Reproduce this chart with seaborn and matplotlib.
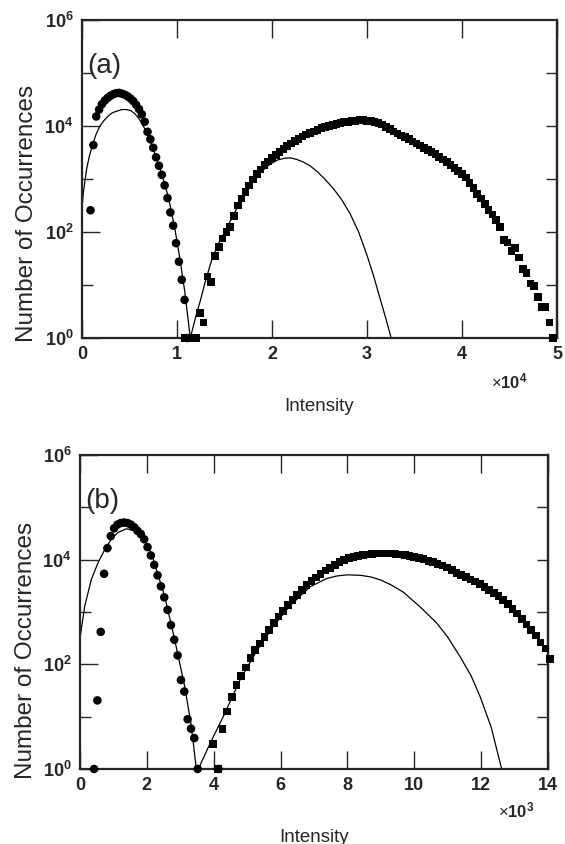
import numpy as np
import pandas as pd
import matplotlib
matplotlib.use("Agg")
import matplotlib.pyplot as plt
import seaborn as sns
from matplotlib.ticker import FixedLocator, NullFormatter, NullLocator

# ---------------- data (y given as log10 of occurrences) ----------------
# panel (a)
circ_a_x = [900, 1200, 1500, 1800, 2100, 2400, 2700, 3000, 3300, 3600,
            3900, 4200, 4500, 4800, 5100, 5400, 5700, 6000, 6300, 6600,
            6900, 7200, 7500, 7800, 8100, 8400, 8700, 9000, 9300, 9600,
            9900, 10200, 10500, 10800, 11100]
circ_a_log = [2.41, 3.64, 4.18, 4.31, 4.41, 4.48, 4.53, 4.57, 4.60, 4.62,
              4.625, 4.61, 4.59, 4.56, 4.52, 4.47, 4.40, 4.32, 4.22, 4.08,
              3.89, 3.75, 3.59, 3.41, 3.25, 3.08, 2.88, 2.64, 2.37, 2.12,
              1.79, 1.44, 1.10, 0.72, 0.0]

sq_a_x = [10800, 11200, 11600, 12000, 12400, 12800, 13200, 13600, 14000, 14400,
          14800, 15200, 15600, 16000, 16400, 16800, 17200, 17600, 18000, 18400,
          18800, 19200, 19600, 20000, 20400, 20800, 21200, 21600, 22000, 22400,
          22800, 23200, 23600, 24000, 24400, 24800, 25200, 25600, 26000, 26400,
          26800, 27200, 27600, 28000, 28400, 28800, 29200, 29600, 30000, 30400,
          30800, 31200, 31600, 32000, 32400, 32800, 33200, 33600, 34000, 34400,
          34800, 35200, 35600, 36000, 36400, 36800, 37200, 37600, 38000, 38400,
          38800, 39200, 39600, 40000, 40400, 40800, 41200, 41600, 42000, 42400,
          42800, 43200, 43600, 44000, 44400, 44800, 45200, 45600, 46000, 46400,
          46800, 47200, 47600, 48000, 48400, 48800, 49200, 49600]
sq_a_log = [0, 0, 0, 0, 0.47, 0.29, 1.16, 1.06, 1.55, 1.72,
            1.88, 2.00, 2.10, 2.30, 2.50, 2.63, 2.76, 2.88, 2.99, 3.09,
            3.18, 3.26, 3.33, 3.40, 3.45, 3.51, 3.57, 3.62, 3.67, 3.72,
            3.76, 3.80, 3.84, 3.87, 3.90, 3.93, 3.96, 3.98, 4.00, 4.02,
            4.04, 4.06, 4.07, 4.08, 4.09, 4.10, 4.11, 4.11, 4.10, 4.09,
            4.08, 4.06, 4.03, 3.98, 3.94, 3.90, 3.86, 3.82, 3.79, 3.75,
            3.71, 3.67, 3.63, 3.59, 3.55, 3.51, 3.47, 3.42, 3.37, 3.32,
            3.27, 3.21, 3.15, 3.09, 3.03, 2.93, 2.83, 2.72, 2.63, 2.53,
            2.42, 2.33, 2.23, 2.10, 1.85, 1.80, 1.64, 1.70, 1.52, 1.30,
            1.23, 1.03, 0.98, 0.77, 0.59, 0.59, 0.29, 0.0]

fit_a1_x = [0, 150, 490, 800, 1190, 1500, 1890, 2300, 2770, 3200,
            3650, 4200, 4700, 5150, 5580, 5950, 6280, 6810, 7510, 8390,
            9090, 9790, 10320, 10840, 11400]
fit_a1_log = [2.44, 2.75, 3.19, 3.45, 3.69, 3.85, 4.00, 4.10, 4.19, 4.25,
              4.28, 4.31, 4.31, 4.29, 4.23, 4.15, 4.06, 3.88, 3.56, 3.10,
              2.66, 2.05, 1.48, 0.85, 0.0]
fit_a2_x = [11400, 12000, 12420, 13000, 13650, 14300, 15000, 15800, 16600, 17400,
            18200, 19000, 19800, 20600, 21300, 21900, 22600, 23300, 24000, 24700,
            25500, 26460, 27300, 28210, 29100, 29970, 30700, 31370, 32000, 32550]
fit_a2_log = [0.0, 0.42, 0.68, 1.08, 1.47, 1.76, 2.00, 2.27, 2.55, 2.80,
              3.00, 3.16, 3.28, 3.36, 3.39, 3.40, 3.37, 3.32, 3.25, 3.15,
              3.01, 2.82, 2.62, 2.35, 2.01, 1.58, 1.17, 0.75, 0.36, 0.0]

# panel (b)
circ_b_x = [420, 520, 620, 720, 820, 920, 1020, 1120, 1220, 1320,
            1420, 1520, 1620, 1720, 1820, 1920, 2020, 2120, 2220, 2320,
            2420, 2520, 2620, 2720, 2820, 2920, 3020, 3120, 3220, 3320,
            3420, 3520, 4140]
circ_b_log = [0, 1.31, 2.62, 3.73, 4.22, 4.45, 4.60, 4.67, 4.70, 4.71,
              4.70, 4.67, 4.62, 4.55, 4.49, 4.39, 4.24, 4.08, 3.90, 3.70,
              3.49, 3.28, 3.04, 2.75, 2.47, 2.17, 1.70, 1.48, 0.95, 0.77,
              0.59, 0, 0]

sq_b_x = [3980, 4120, 4260, 4400, 4540, 4680, 4820, 4960, 5100, 5240,
          5380, 5520, 5660, 5800, 5940, 6080, 6220, 6360, 6500, 6640,
          6780, 6920, 7060, 7200, 7340, 7480, 7620, 7760, 7900, 8040,
          8180, 8320, 8460, 8600, 8740, 8880, 9020, 9160, 9300, 9440,
          9580, 9720, 9860, 10000, 10140, 10280, 10420, 10560, 10700, 10840,
          10980, 11120, 11260, 11400, 11540, 11680, 11820, 11960, 12100, 12240,
          12380, 12520, 12660, 12800, 12940, 13080, 13220, 13360, 13500, 13640,
          13780, 13920, 14060]
sq_b_log = [0.48, 0, 0.76, 1.10, 1.38, 1.60, 1.78, 1.94, 2.12, 2.27,
            2.40, 2.52, 2.66, 2.79, 2.91, 3.02, 3.13, 3.23, 3.33, 3.42,
            3.52, 3.59, 3.66, 3.73, 3.79, 3.84, 3.90, 3.95, 3.99, 4.03,
            4.05, 4.07, 4.09, 4.10, 4.11, 4.12, 4.12, 4.12, 4.12, 4.11,
            4.10, 4.09, 4.07, 4.05, 4.03, 4.01, 3.98, 3.95, 3.92, 3.89,
            3.85, 3.80, 3.75, 3.71, 3.67, 3.62, 3.58, 3.53, 3.48, 3.42,
            3.36, 3.30, 3.23, 3.15, 3.06, 2.97, 2.87, 2.76, 2.65, 2.55,
            2.42, 2.30, 2.10]

fit_b1_x = [0, 140, 339, 538, 738, 937, 1137, 1386, 1585, 1700,
            1850, 2000, 2150, 2300, 2533, 2832, 3131, 3330, 3480]
fit_b1_log = [2.50, 3.11, 3.62, 3.94, 4.19, 4.39, 4.52, 4.59, 4.56, 4.51,
              4.43, 4.30, 4.10, 3.78, 3.30, 2.47, 1.58, 0.82, 0.0]
fit_b2_x = [3540, 3900, 4300, 4800, 5300, 5800, 6300, 6880, 7380, 7700,
            8000, 8400, 8700, 9000, 9300, 9671, 10170, 10670, 11000, 11367,
            11700, 11965, 12300, 12614]
fit_b2_log = [0, 0.50, 1.02, 1.72, 2.27, 2.74, 3.13, 3.48, 3.64, 3.69,
              3.71, 3.70, 3.67, 3.61, 3.52, 3.38, 3.10, 2.79, 2.52, 2.15,
              1.78, 1.39, 0.80, 0]

ytick_vals = [1, 1e2, 1e4, 1e6]
ytick_labels = ["$10^{0}$", "$10^{2}$", "$10^{4}$", "$10^{6}$"]
xticks_a = [0, 10000, 20000, 30000, 40000, 50000]
xlabels_a = ["0", "1", "2", "3", "4", "5"]
xticks_b = [0, 2000, 4000, 6000, 8000, 10000, 12000, 14000]
xlabels_b = ["0", "2", "4", "6", "8", "10", "12", "14"]

# ---------------- style ----------------
sns.set_style("ticks")
plt.rcParams["font.family"] = ["Liberation Sans", "DejaVu Sans"]
plt.rcParams["mathtext.fontset"] = "custom"
plt.rcParams["mathtext.rm"] = "Liberation Sans:bold"
plt.rcParams["mathtext.bf"] = "Liberation Sans:bold"
plt.rcParams["mathtext.it"] = "Liberation Sans:bold"
plt.rcParams["mathtext.default"] = "rm"

fig = plt.figure(figsize=(5.65, 8.44), dpi=100)
axA = fig.add_axes([0.1451, 0.5995, 0.8407, 0.3768])
axB = fig.add_axes([0.1416, 0.0889, 0.8283, 0.3720])


def to_df(x, lg):
    return pd.DataFrame({"x": np.asarray(x, float), "y": 10.0 ** np.asarray(lg, float)})


def panel(ax, cx, clog, sx, slog, fits, xmax, xticks, xlabels, mult, tag,
          ylab_y, mult_xy):
    for fx, flog in fits:
        d = to_df(fx, flog)
        sns.lineplot(data=d, x="x", y="y", ax=ax, color="black", lw=0.9,
                     sort=False, estimator=None, zorder=2)
    sns.scatterplot(data=to_df(sx, slog), x="x", y="y", ax=ax, marker="s",
                    s=30, color="black", edgecolor="none", linewidth=0,
                    clip_on=False, zorder=3)
    sns.scatterplot(data=to_df(cx, clog), x="x", y="y", ax=ax, marker="o",
                    s=38, color="black", edgecolor="none", linewidth=0,
                    clip_on=False, zorder=3)
    ax.set_yscale("log")
    ax.set_ylim(1, 1e6)
    ax.set_xlim(0, xmax)
    ax.yaxis.set_major_locator(FixedLocator(ytick_vals))
    ax.yaxis.set_minor_locator(FixedLocator([10, 1e3, 1e5]))
    ax.yaxis.set_minor_formatter(NullFormatter())
    ax.set_yticklabels(ytick_labels)
    ax.set_xticks(xticks)
    ax.set_xticklabels(xlabels)
    ax.xaxis.set_minor_locator(NullLocator())
    ax.tick_params(axis="y", which="major", direction="in", length=13, width=1,
                   left=True, right=False, labelsize=13, pad=6)
    ax.tick_params(axis="y", which="minor", direction="in", length=8, width=1,
                   left=True, right=False)
    ax.tick_params(axis="x", which="major", direction="in", length=13, width=1,
                   top=True, bottom=True, labelsize=13, pad=6)
    for lab in ax.get_xticklabels():
        lab.set_fontweight("bold")
    sec = ax.secondary_yaxis("right")
    sec.set_yscale("log")
    sec.yaxis.set_major_locator(FixedLocator([10, 1e2, 1e3, 1e4, 1e5]))
    sec.yaxis.set_minor_locator(NullLocator())
    sec.tick_params(axis="y", direction="in", length=8, width=1, labelright=False)
    sec.spines["right"].set_linewidth(1.6)
    for sp in ax.spines.values():
        sp.set_linewidth(1.6)
        sp.set_visible(True)
    ax.set_xlabel("Intensity", fontsize=13.5)
    ax.xaxis.set_label_coords(0.5, -0.19)
    ax.xaxis.label.set_va("top")
    ax.set_ylabel("Number of Occurrences", fontsize=17.5)
    ax.yaxis.set_label_coords(-0.092, ylab_y)
    ax.text(0.012, 0.855, tag, transform=ax.transAxes, fontsize=20,
            ha="left", va="center")
    ax.text(mult_xy[0], mult_xy[1], mult, transform=ax.transAxes,
            fontsize=12, ha="right", va="center")


panel(axA, circ_a_x, circ_a_log, sq_a_x, sq_a_log,
      [(fit_a1_x, fit_a1_log), (fit_a2_x, fit_a2_log)],
      50000, xticks_a, xlabels_a, "×$10^{4}$", "(a)", 0.393, (0.939, -0.138))
panel(axB, circ_b_x, circ_b_log, sq_b_x, sq_b_log,
      [(fit_b1_x, fit_b1_log), (fit_b2_x, fit_b2_log)],
      14000, xticks_b, xlabels_b, "×$10^{3}$", "(b)", 0.379, (0.972, -0.131))

fig.savefig("out.png", dpi=100)
